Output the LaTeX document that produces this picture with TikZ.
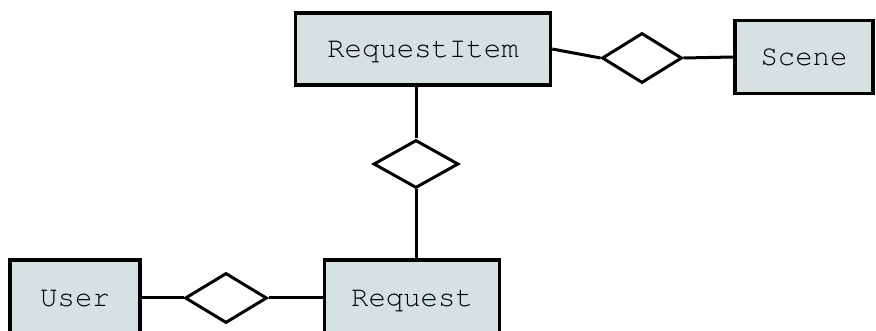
\documentclass[tikz,border=0pt]{standalone}
\usetikzlibrary{shapes.geometric}
\definecolor{boxfill}{RGB}{214,226,226}
\newcommand{\courierfont}{\fontencoding{T1}\fontfamily{pcr}\fontseries{m}\fontshape{n}\fontsize{29}{32}\selectfont}
\tikzset{
  entity/.style={draw=black, line width=3.5pt, fill=boxfill, inner sep=0pt,
    font=\courierfont, text depth=0pt},
  rel/.style={draw=black, line width=3pt, fill=white, diamond, inner sep=0pt},
  conn/.style={draw=black, line width=3pt}
}
\begin{document}
\begin{tikzpicture}[x=1pt,y=-1pt]
\useasboundingbox (0,0) rectangle (876,331);
\node[entity, minimum width=255pt, minimum height=72pt] (ri) at (423,49) {RequestItem};
\node[entity, minimum width=138pt, minimum height=73pt] (sc) at (804,57) {Scene};
\node[entity, minimum width=130pt, minimum height=76pt] (us) at (75,298) {User};
\node[entity, minimum width=175pt, minimum height=76pt] (rq) at (412,298) {Request};
\node[rel, minimum width=80pt, minimum height=50pt] (d1) at (642,58) {};
\node[rel, minimum width=85pt, minimum height=48pt] (d2) at (416,164) {};
\node[rel, minimum width=82pt, minimum height=50pt] (d3) at (226,298) {};
\draw[conn] (ri.east) -- (d1.west);
\draw[conn] (d1.east) -- (sc.west);
\draw[conn] (d2.north |- ri.south) -- (d2.north);
\draw[conn] (d2.south) -- (d2.south |- rq.north);
\draw[conn] (us.east) -- (d3.west);
\draw[conn] (d3.east) -- (rq.west);
\end{tikzpicture}
\end{document}
